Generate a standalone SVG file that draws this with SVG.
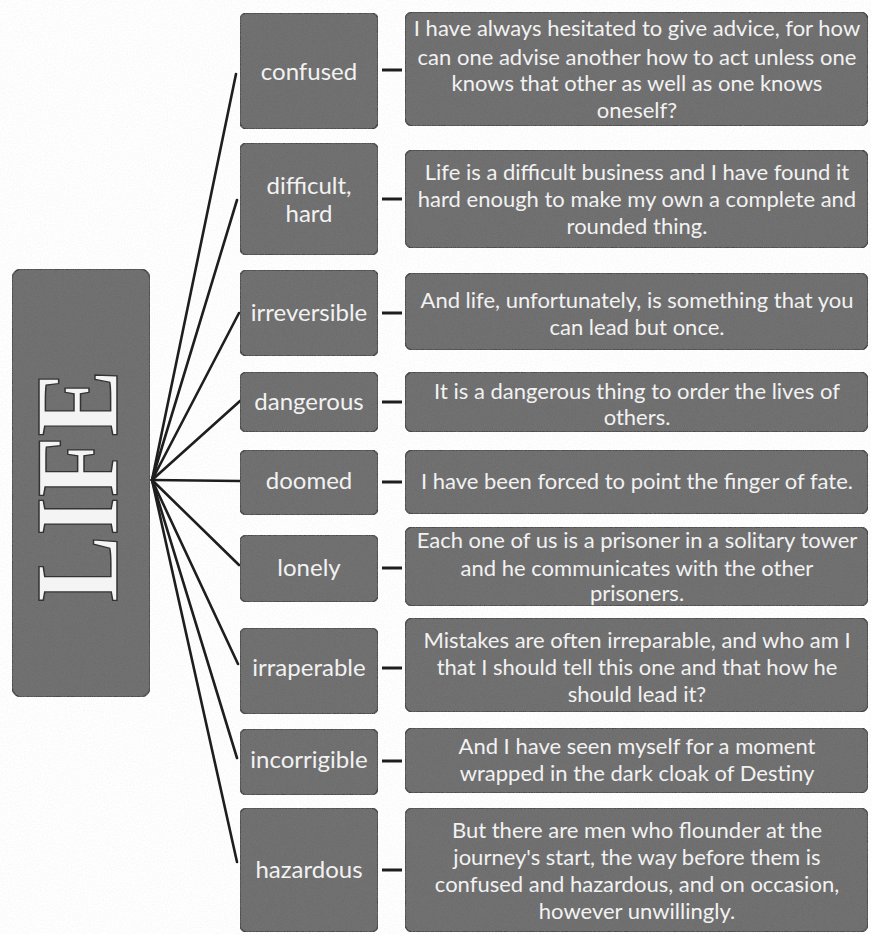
<svg xmlns="http://www.w3.org/2000/svg" width="871" height="934" viewBox="0 0 871 934">
<defs>
<filter id="grain" x="0" y="0" width="100%" height="100%">
<feTurbulence type="fractalNoise" baseFrequency="1.1" numOctaves="2" seed="4" result="n"/>
<feColorMatrix in="n" type="matrix" values="0 0 0 0 0.15  0 0 0 0 0.15  0 0 0 0 0.15  2.2 0 0 0 -0.75" result="g"/>
<feComposite in="g" in2="SourceGraphic" operator="in" result="c"/>
<feMerge><feMergeNode in="SourceGraphic"/><feMergeNode in="c"/></feMerge>
</filter>
<filter id="paper" x="0" y="0" width="100%" height="100%">
<feTurbulence type="fractalNoise" baseFrequency="0.7" numOctaves="1" seed="9" result="n"/>
<feColorMatrix in="n" type="matrix" values="0.1 0.1 0 0 0.88  0.1 0.1 0 0 0.88  0.1 0.1 0 0 0.88  0 0 0 0 1"/>
</filter>
</defs>
<style>
.box{fill:#727272;stroke:#404040;stroke-width:1.5;filter:url(#grain)}
.lbl{font-family:"Lato","Liberation Sans",sans-serif;font-size:24px;fill:#f2f2f2;text-anchor:middle}
.q{font-family:"Lato","Liberation Sans",sans-serif;font-size:22px;fill:#f2f2f2;text-anchor:middle}
.con{stroke:#1e1e1e;stroke-width:2.6;fill:none;stroke-linecap:round}
.dash{stroke:#1e1e1e;stroke-width:3;fill:none}
.life{font-family:"Liberation Serif","DejaVu Serif",serif;font-size:118px;font-weight:bold;fill:#f4f4f4;stroke:#333333;stroke-width:1.5;text-anchor:middle}
</style>
<rect x="0" y="0" width="871" height="934" fill="#f4f4f4" filter="url(#paper)"/>

<g id="connectors">
<line class="con" x1="152" y1="480" x2="236" y2="74"/>
<line class="con" x1="152" y1="480" x2="237" y2="200"/>
<line class="con" x1="152" y1="480" x2="239" y2="313"/>
<line class="con" x1="152" y1="480" x2="240" y2="401"/>
<line class="con" x1="152" y1="480" x2="240" y2="481"/>
<line class="con" x1="152" y1="480" x2="239" y2="565"/>
<line class="con" x1="152" y1="480" x2="238" y2="664"/>
<line class="con" x1="152" y1="480" x2="237" y2="758"/>
<line class="con" x1="152" y1="480" x2="237" y2="862"/>
<line class="dash" x1="382" y1="70" x2="402" y2="70"/>
<line class="dash" x1="382" y1="199" x2="402" y2="199"/>
<line class="dash" x1="382" y1="313" x2="402" y2="313"/>
<line class="dash" x1="382" y1="402" x2="402" y2="402"/>
<line class="dash" x1="382" y1="482" x2="402" y2="482"/>
<line class="dash" x1="382" y1="568" x2="402" y2="568"/>
<line class="dash" x1="382" y1="668" x2="402" y2="668"/>
<line class="dash" x1="382" y1="761" x2="402" y2="761"/>
<line class="dash" x1="382" y1="870" x2="402" y2="870"/>
</g>

<g id="life">
<rect class="box" x="12" y="269" width="138" height="428" rx="10"/>
<text class="life" transform="translate(117,486) rotate(-90)" textLength="232" lengthAdjust="spacingAndGlyphs">LIFE</text>
</g>

<g id="confused">
<rect class="box" x="240" y="13" width="138" height="116" rx="7"/>
<text class="lbl" x="309" y="80">confused</text>
</g>
<g id="difficult">
<rect class="box" x="240" y="143" width="138" height="112" rx="7"/>
<text class="lbl" x="309" y="194">difficult,</text>
<text class="lbl" x="309" y="222">hard</text>
</g>
<g id="irreversible">
<rect class="box" x="240" y="270" width="138" height="86" rx="7"/>
<text class="lbl" x="309" y="321">irreversible</text>
</g>
<g id="dangerous">
<rect class="box" x="240" y="372" width="138" height="60" rx="7"/>
<text class="lbl" x="309" y="410">dangerous</text>
</g>
<g id="doomed">
<rect class="box" x="240" y="450" width="138" height="65" rx="7"/>
<text class="lbl" x="309" y="489">doomed</text>
</g>
<g id="lonely">
<rect class="box" x="240" y="535" width="138" height="67" rx="7"/>
<text class="lbl" x="309" y="576">lonely</text>
</g>
<g id="irraperable">
<rect class="box" x="240" y="628" width="138" height="86" rx="7"/>
<text class="lbl" x="309" y="676">irraperable</text>
</g>
<g id="incorrigible">
<rect class="box" x="240" y="729" width="138" height="66" rx="7"/>
<text class="lbl" x="309" y="768">incorrigible</text>
</g>
<g id="hazardous">
<rect class="box" x="240" y="808" width="138" height="124" rx="7"/>
<text class="lbl" x="309" y="878">hazardous</text>
</g>

<g id="q-confused">
<rect class="box" x="405" y="12" width="463" height="114" rx="8"/>
<text class="q" x="637" y="36">I have always hesitated to give advice, for how</text>
<text class="q" x="637" y="65">can one advise another how to act unless one</text>
<text class="q" x="637" y="91">knows that other as well as one knows</text>
<text class="q" x="637" y="118">oneself?</text>
</g>
<g id="q-difficult">
<rect class="box" x="405" y="150" width="463" height="98" rx="8"/>
<text class="q" x="637" y="180">Life is a difficult business and I have found it</text>
<text class="q" x="637" y="207">hard enough to make my own a complete and</text>
<text class="q" x="637" y="234">rounded thing.</text>
</g>
<g id="q-irreversible">
<rect class="box" x="405" y="273" width="463" height="77" rx="8"/>
<text class="q" x="637" y="308">And life, unfortunately, is something that you</text>
<text class="q" x="637" y="335">can lead but once.</text>
</g>
<g id="q-dangerous">
<rect class="box" x="405" y="372" width="463" height="60" rx="8"/>
<text class="q" x="637" y="399">It is a dangerous thing to order the lives of</text>
<text class="q" x="637" y="425">others.</text>
</g>
<g id="q-doomed">
<rect class="box" x="405" y="450" width="463" height="64" rx="8"/>
<text class="q" x="637" y="489">I have been forced to point the finger of fate.</text>
</g>
<g id="q-lonely">
<rect class="box" x="405" y="527" width="463" height="79" rx="8"/>
<text class="q" x="637" y="548">Each one of us is a prisoner in a solitary tower</text>
<text class="q" x="637" y="576">and he communicates with the other</text>
<text class="q" x="637" y="601">prisoners.</text>
</g>
<g id="q-irraperable">
<rect class="box" x="405" y="618" width="463" height="94" rx="8"/>
<text class="q" x="637" y="648">Mistakes are often irreparable,  and who am I</text>
<text class="q" x="637" y="675">that I should tell this one and that how he</text>
<text class="q" x="637" y="702">should lead it?</text>
</g>
<g id="q-incorrigible">
<rect class="box" x="405" y="728" width="463" height="65" rx="8"/>
<text class="q" x="637" y="754">And I have seen myself for a moment</text>
<text class="q" x="637" y="781">wrapped in the dark cloak of Destiny</text>
</g>
<g id="q-hazardous">
<rect class="box" x="405" y="808" width="463" height="124" rx="8"/>
<text class="q" x="637" y="838">But there are men who flounder at the</text>
<text class="q" x="637" y="865">journey's start, the way before them is</text>
<text class="q" x="637" y="892">confused and hazardous, and on occasion,</text>
<text class="q" x="637" y="919">however unwillingly.</text>
</g>
</svg>
